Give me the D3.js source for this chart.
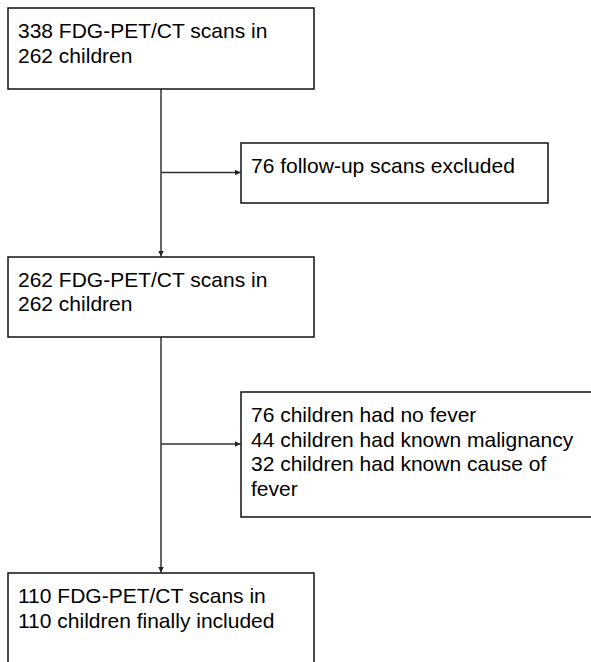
<!DOCTYPE html>
<html>
<head>
<meta charset="utf-8">
<script src="https://cdn.jsdelivr.net/npm/d3@7"></script>
<style>
  html, body { margin: 0; padding: 0; background: #fff; }
  svg { display: block; }
</style>
</head>
<body>
<div id="chart"></div>
<script>
// ---- Data (flow stages and exclusions) ----
const mainStages = [
  ["338 FDG-PET/CT scans in", "262 children"],
  ["262 FDG-PET/CT scans in", "262 children"],
  ["110 FDG-PET/CT scans in", "110 children finally included"]
];
const exclusions = [
  ["76 follow-up scans excluded"],
  ["76 children had no fever", "44 children had known malignancy", "32 children had known cause of", "fever"]
];

// ---- Layout ----
const W = 591, H = 662;
const svg = d3.select("#chart").append("svg").attr("width", W).attr("height", H);

const font = "'Liberation Sans', Arial, Helvetica, sans-serif";
const fs = 21, lh = 24.5;

const mainBoxes = [
  { x: 8, y: 8, w: 306, h: 81 },
  { x: 8, y: 257, w: 306, h: 80 },
  { x: 8, y: 573, w: 306, h: 100 }
];
const exBoxes = [
  { x: 241, y: 143, w: 307, h: 60, arrowY: 172.5 },
  { x: 241, y: 392, w: 360, h: 125, arrowY: 444 }
];

const defs = svg.append("defs");
defs.append("marker")
  .attr("id", "ah")
  .attr("viewBox", "0 0 10 10")
  .attr("refX", 10).attr("refY", 5)
  .attr("markerWidth", 6).attr("markerHeight", 6)
  .attr("markerUnits", "userSpaceOnUse")
  .attr("orient", "auto")
  .append("path").attr("d", "M0,0 L10,5 L0,10 z").attr("fill", "#222");

const cx = 161;
const lineColor = "#333";

// vertical connectors
mainBoxes.slice(0, -1).forEach((b, i) => {
  const nb = mainBoxes[i + 1];
  svg.append("line")
    .attr("x1", cx).attr("y1", b.y + b.h)
    .attr("x2", cx).attr("y2", nb.y - 0.5)
    .attr("stroke", lineColor).attr("stroke-width", 1.5)
    .attr("marker-end", "url(#ah)");
});
// horizontal connectors to exclusion boxes
exBoxes.forEach(b => {
  svg.append("line")
    .attr("x1", cx).attr("y1", b.arrowY)
    .attr("x2", b.x - 0.5).attr("y2", b.arrowY)
    .attr("stroke", lineColor).attr("stroke-width", 1.5)
    .attr("marker-end", "url(#ah)");
});

function drawBox(b, lines, textY0) {
  svg.append("rect")
    .attr("x", b.x).attr("y", b.y).attr("width", b.w).attr("height", b.h)
    .attr("fill", "#fff").attr("stroke", "#111").attr("stroke-width", 1.5);
  const t = svg.append("text")
    .attr("font-family", font).attr("font-size", fs).attr("fill", "#000");
  lines.forEach((l, i) => {
    t.append("tspan").attr("x", b.x + 10).attr("y", textY0 + i * lh).text(l);
  });
}

drawBox(mainBoxes[0], mainStages[0], 38);
drawBox(mainBoxes[1], mainStages[1], 286.5);
drawBox(mainBoxes[2], mainStages[2], 603);
drawBox(exBoxes[0], exclusions[0], 173);
drawBox(exBoxes[1], exclusions[1], 422);
</script>
</body>
</html>
